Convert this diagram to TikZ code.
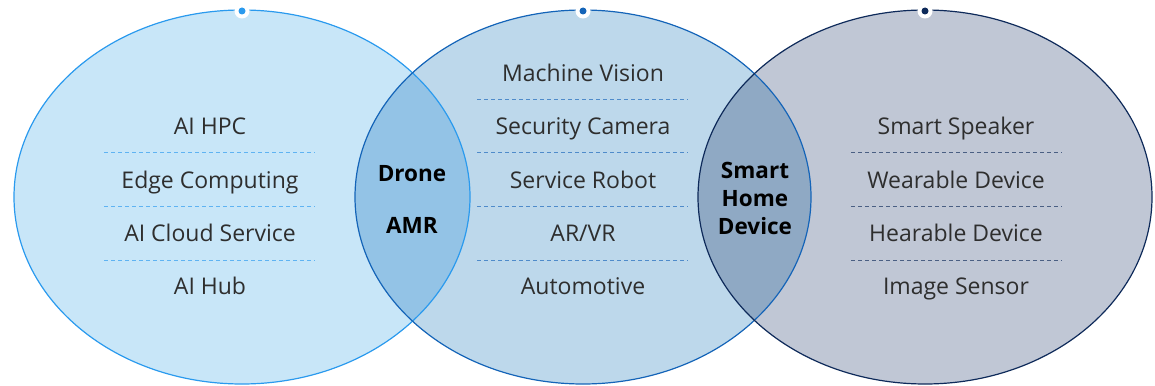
\documentclass[tikz,border=0pt]{standalone}
\usepackage{fontspec}
\setmainfont{Open Sans}
\usetikzlibrary{positioning}
\definecolor{skyfill}{HTML}{C8E6F8}
\definecolor{skyline}{HTML}{2A9AEE}
\definecolor{midfill}{HTML}{BDD8EB}
\definecolor{midline}{HTML}{1464B8}
\definecolor{navyfill}{HTML}{C0C7D5}
\definecolor{navyline}{HTML}{0E2A5A}
\definecolor{lensA}{HTML}{93C3E6}
\definecolor{lensB}{HTML}{8FA9C4}
\definecolor{textgray}{HTML}{2E2E2E}
\begin{document}
\begin{tikzpicture}[x=1pt,y=-1pt,
        item/.style={font=\fontsize{23}{26}\selectfont, text=textgray, inner sep=0pt, anchor=base},
        lens/.style={font=\fontsize{22.5}{28}\selectfont\bfseries, align=center, inner sep=0pt},
        sep/.style={dashed, dash pattern=on 4pt off 3pt, line width=0.8pt},
        marker/.style={circle, fill=white, minimum size=15pt, inner sep=0pt}]
        \useasboundingbox (0,0) rectangle (1155,385);
        %% Circles
        \fill [skyfill] (242,197) ellipse (228 and 187);
        \fill [midfill] (583,197) ellipse (228 and 187);
        \fill [navyfill] (925,197) ellipse (227 and 187);
        %% Overlaps
        \begin{scope}
            \clip (242,197) ellipse (228 and 187);
            \fill [lensA] (583,197) ellipse (228 and 187);
        \end{scope}
        \begin{scope}
            \clip (583,197) ellipse (228 and 187);
            \fill [lensB] (925,197) ellipse (227 and 187);
        \end{scope}
        %% Outlines
        \draw [skyline, line width=1.2pt] (242,197) ellipse (228 and 187);
        \draw [midline, line width=1.2pt] (583,197) ellipse (228 and 187);
        \draw [navyline, line width=1.2pt] (925,197) ellipse (227 and 187);
        %% Markers
        \node [marker] (mL) at (242,11) {};
        \node [marker] (mM) at (583,11) {};
        \node [marker] (mR) at (925,11) {};
        \fill [skyline] (mL) circle (3.5);
        \fill [midline] (mM) circle (3.5);
        \fill [navyline] (mR) circle (3.5);
        %% Left items
        \node [item] at (210,135) (hpc) {AI HPC};
        \node [item] at (210,188) (edge) {Edge Computing};
        \node [item] at (210,241) (cloud) {AI Cloud Service};
        \node [item] at (210,294) (hub) {AI Hub};
        \foreach \y in {152,206,260}
            \draw [sep, skyline!75] (104,\y) -- (315,\y);
        %% Middle items
        \node [item] at (583,82) (vision) {Machine Vision};
        \node [item] at (583,135) (camera) {Security Camera};
        \node [item] at (583,188) (robot) {Service Robot};
        \node [item] at (583,241) (arvr) {AR/VR};
        \node [item] at (583,294) (auto) {Automotive};
        \foreach \y in {99,152,206,260}
            \draw [sep, midline!75] (477,\y) -- (688,\y);
        %% Right items
        \node [item] at (956,135) (speaker) {Smart Speaker};
        \node [item] at (956,188) (wear) {Wearable Device};
        \node [item] at (956,241) (hear) {Hearable Device};
        \node [item] at (956,294) (image) {Image Sensor};
        \foreach \y in {152,206,260}
            \draw [sep, navyline!75] (851,\y) -- (1062,\y);
        %% Overlap labels
        \node [lens, anchor=base] at (412,181) (drone) {Drone};
        \node [lens, anchor=base] at (412,233) (amr) {AMR};
        \node [lens] at (755,198) (home) {Smart\\Home\\Device};
    \end{tikzpicture}
\end{document}
